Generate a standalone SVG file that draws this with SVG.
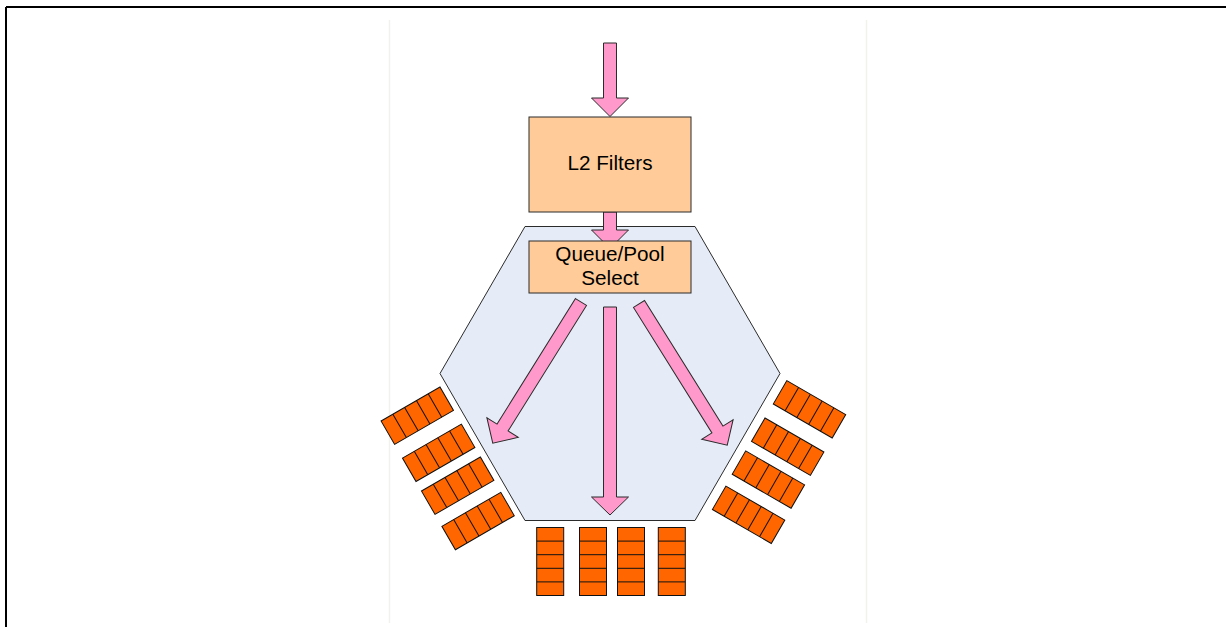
<svg xmlns="http://www.w3.org/2000/svg" xmlns:xlink="http://www.w3.org/1999/xlink" width="1226" height="627" viewBox="0 0 1226 627">
<style>
.arrow{fill:#ff99cc;stroke:#2b2b2b;stroke-width:1;stroke-linejoin:miter}
.box{fill:#ffcc99;stroke:#2b2b2b;stroke-width:1}
.lbl{font-family:"Liberation Sans",Arial,sans-serif;font-size:20.7px;fill:#000;text-anchor:middle}
.cell{fill:#ff6600;stroke:#111;stroke-width:1}
</style>
<defs>
<g id="q">
<rect class="cell" x="-13.5" y="-34" width="27" height="68"/>
<path d="M-13.5,-20.4H13.5M-13.5,-6.8H13.5M-13.5,6.8H13.5M-13.5,20.4H13.5" stroke="#111" stroke-width="1" fill="none"/>
</g>
</defs>
<rect width="1226" height="627" fill="#ffffff"/>
<path d="M389.5,20V623M866.5,20V623" stroke="#f2f2ed" stroke-width="1.5" fill="none"/>
<path d="M6,7H1226M6,7V627" stroke="#000" stroke-width="2" fill="none"/>

<g id="pool">
<polygon points="525,226.5 695,226.5 780,373.5 695,520.5 525,520.5 440,373.5" fill="#e5ecf7" stroke="#2b2b2b" stroke-width="1"/>
</g>

<g id="queues-bottom">
<use xlink:href="#q" href="#q" transform="translate(550.2,561.5)"/>
<use xlink:href="#q" href="#q" transform="translate(593,561.5)"/>
<use xlink:href="#q" href="#q" transform="translate(631,561.5)"/>
<use xlink:href="#q" href="#q" transform="translate(671.8,561.5)"/>
</g>
<g id="queues-left" transform="rotate(60 610 373.5)">
<use xlink:href="#q" href="#q" transform="translate(550.2,561.5)"/>
<use xlink:href="#q" href="#q" transform="translate(593,561.5)"/>
<use xlink:href="#q" href="#q" transform="translate(631,561.5)"/>
<use xlink:href="#q" href="#q" transform="translate(671.8,561.5)"/>
</g>
<g id="queues-right">
<use xlink:href="#q" href="#q" transform="translate(809.5,409.3) rotate(-60)"/>
<use xlink:href="#q" href="#q" transform="translate(787.7,446.7) rotate(-60)"/>
<use xlink:href="#q" href="#q" transform="translate(768.4,479.6) rotate(-60)"/>
<use xlink:href="#q" href="#q" transform="translate(748.6,514.8) rotate(-60)"/>
</g>

<g id="connectors">
<path class="arrow" d="M603.5,43H616.5V98H628.5L610,116.5L591.5,98H603.5Z"/>
<path class="arrow" d="M603.5,212H616.5V230H628.5L610,248.5L591.5,230H603.5Z"/>
<path class="arrow" d="M603.5,307H616.5V497H628.5L610,515L591.5,497H603.5Z"/>
<path class="arrow" transform="translate(581,302) rotate(32)" d="M-6.5,0H6.5V148H18.5L0,166.5L-18.5,148H-6.5Z"/>
<path class="arrow" transform="translate(639,304) rotate(-32)" d="M-6.5,0H6.5V148H18.5L0,166.5L-18.5,148H-6.5Z"/>
</g>

<g id="l2filters">
<rect class="box" x="529" y="117" width="162" height="95"/>
<text class="lbl" x="610" y="170">L2 Filters</text>
</g>
<g id="queuepoolselect">
<rect class="box" x="529" y="241" width="162" height="52"/>
<text class="lbl" x="610" y="261">Queue/Pool</text>
<text class="lbl" x="610" y="285">Select</text>
</g>
</svg>
